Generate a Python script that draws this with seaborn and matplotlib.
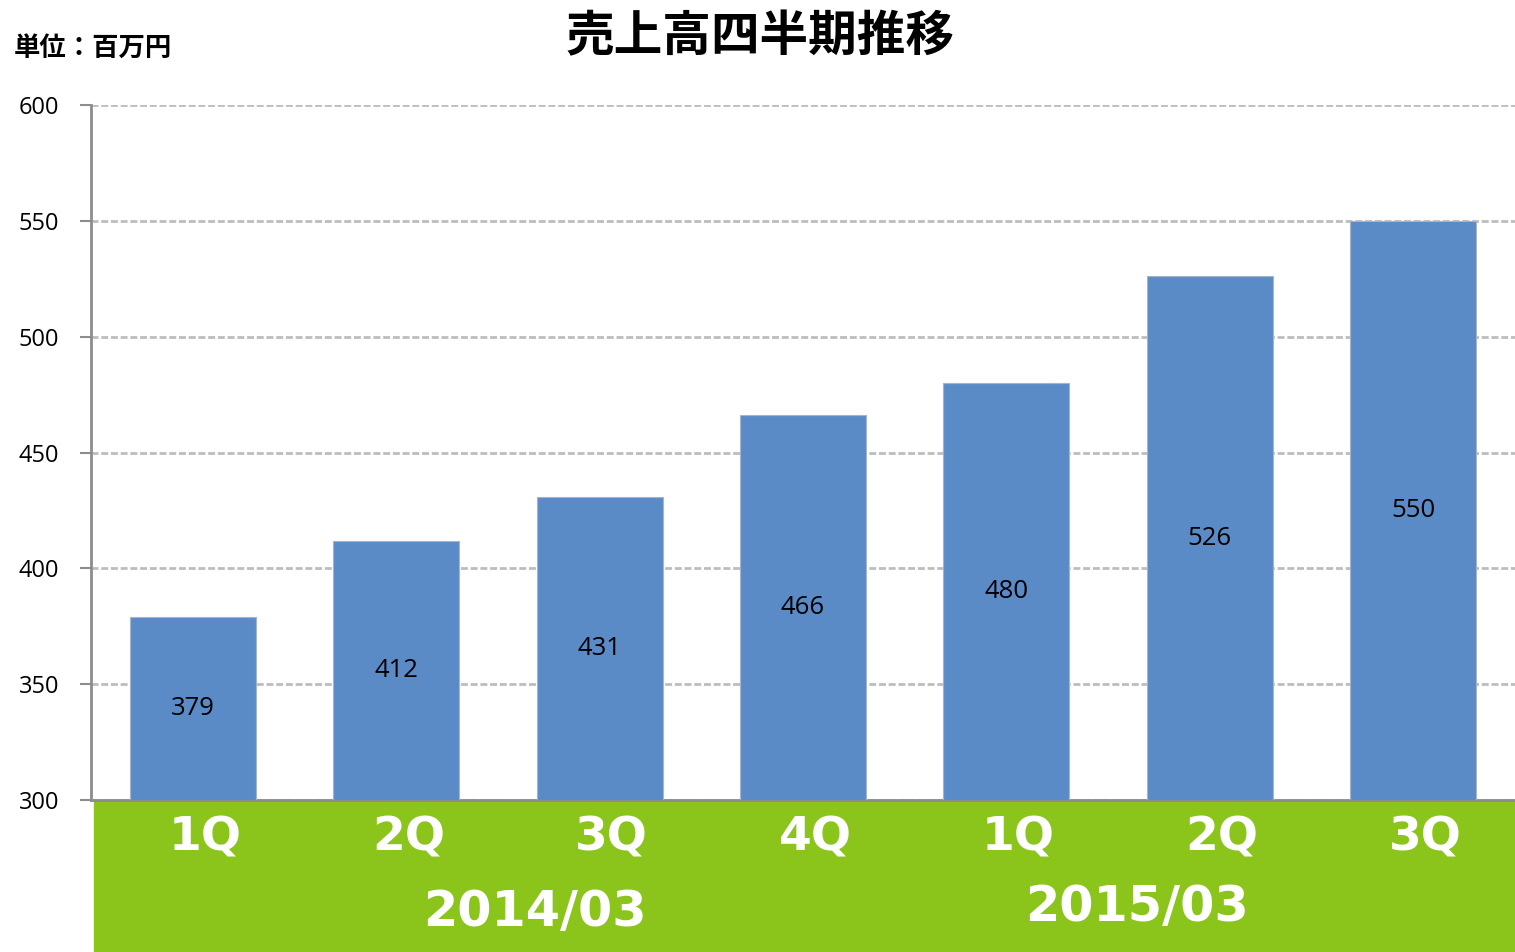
import matplotlib

matplotlib.use("Agg")

import matplotlib.pyplot as plt
import matplotlib.transforms as mtransforms
import pandas as pd
import seaborn as sns
from matplotlib.patches import Rectangle

# data
quarters = ["1Q", "2Q", "3Q", "4Q", "1Q", "2Q", "3Q"]
fiscal_years = ["2014/03", "2014/03", "2014/03", "2014/03", "2015/03", "2015/03", "2015/03"]
sales = [379, 412, 431, 466, 480, 526, 550]
y_ticks = [300, 350, 400, 450, 500, 550, 600]

BAR = "#5B8BC7"
GREEN = "#8BC41B"
GRID = "#BDBDBD"
SPINE = "#8C8C8C"

sns.set_theme(style="white")
plt.rcParams["font.family"] = ["Noto Sans CJK JP", "DejaVu Sans"]
plt.rcParams["text.color"] = "black"

frame = pd.DataFrame(
    {"slot": [f"{y} {q}" for y, q in zip(fiscal_years, quarters)], "sales": sales}
)

fig = plt.figure(figsize=(15.15, 9.52), dpi=100)
ax = fig.add_axes([91 / 1515, 152 / 952, 1 - 91 / 1515, 695 / 952])

sns.barplot(
    data=frame, x="slot", y="sales", color=BAR, width=0.62, saturation=1,
    edgecolor="#A4B4CA", linewidth=0.8, ax=ax, zorder=3,
)
ax.bar_label(ax.containers[0], labels=[str(v) for v in sales], label_type="center",
             fontsize=18.5, color="black", family=["Open Sans", "DejaVu Sans"])

ax.set_ylim(300, 600)
ax.set_yticks(y_ticks)
ax.set_yticklabels([str(t) for t in y_ticks], fontsize=17, color="black",
                   family=["Open Sans", "DejaVu Sans"])
ax.yaxis.grid(True, linestyle=(0, (2.5, 1)), color=GRID, linewidth=2, zorder=0)
ax.set_axisbelow(True)
ax.set_xlabel("")
ax.set_ylabel("")
ax.set_xticks(range(len(sales)))
ax.set_xticklabels([""] * len(sales))
ax.tick_params(axis="y", left=True, length=8, width=1.5, color=SPINE, pad=15)
ax.tick_params(axis="x", bottom=False)
for side in ["top", "right"]:
    ax.spines[side].set_visible(False)
for side in ["left", "bottom"]:
    ax.spines[side].set_color(SPINE)
    ax.spines[side].set_linewidth(2)

# green category band below the plot
fig.patches.append(Rectangle((94 / 1515, 0), 1 - 94 / 1515, 152 / 952,
                             transform=fig.transFigure, color=GREEN, zorder=-1))

trans = mtransforms.blended_transform_factory(ax.transData, ax.transAxes)
for i, q in enumerate(quarters):
    ax.text(i + 0.06, -0.055, q, transform=trans, ha="center", va="center",
            color="white", fontsize=34, fontweight="bold", family="DejaVu Sans", zorder=10)
year_pos = {"2014/03": 1.68, "2015/03": 4.64}
year_y = {"2014/03": -0.161, "2015/03": -0.154}
for year in dict.fromkeys(fiscal_years):
    ax.text(year_pos[year], year_y[year], year, transform=trans, ha="center", va="center",
            color="white", fontsize=35.5, fontweight="bold", family="DejaVu Sans", zorder=10)

fig.text(760 / 1515, 1 - 37 / 952, "売上高四半期推移", ha="center", va="center",
         fontsize=35, fontweight="bold")
fig.text(14 / 1515, 1 - 48 / 952, "単位：百万円", ha="left", va="center",
         fontsize=19, fontweight="bold")

fig.savefig("out.png", dpi=100, facecolor="white")
